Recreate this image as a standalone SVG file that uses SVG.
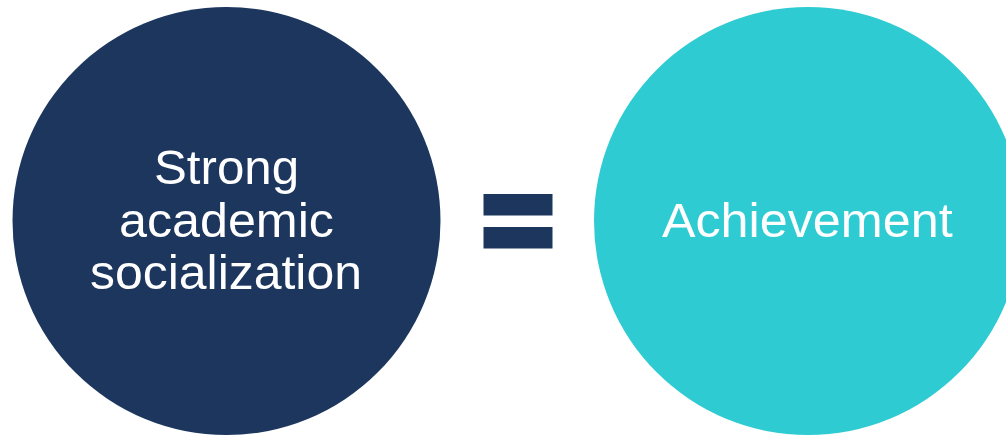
<svg xmlns="http://www.w3.org/2000/svg" width="1006" height="435" viewBox="0 0 1006 435">
<style>
.lbl{font-family:"Liberation Sans",Arial,sans-serif;font-size:48px;fill:#ffffff;text-anchor:middle}
.bar{fill:#1c365e}
</style>
<rect width="1006" height="435" fill="#ffffff"/>
<g id="node-strong">
<circle cx="226.5" cy="221" r="214" fill="#1c365e"/>
<text class="lbl" x="226.5" y="184" textLength="145" lengthAdjust="spacingAndGlyphs">Strong</text>
<text class="lbl" x="226.5" y="237" textLength="215" lengthAdjust="spacingAndGlyphs">academic</text>
<text class="lbl" x="226" y="289" textLength="272" lengthAdjust="spacingAndGlyphs">socialization</text>
</g>
<g id="node-equals">
<rect class="bar" x="483.5" y="194" width="69" height="21.5"/>
<rect class="bar" x="483.5" y="227" width="69" height="21.5"/>
</g>
<g id="node-achievement">
<circle cx="808" cy="221" r="214" fill="#2ecbd2"/>
<text class="lbl" x="807.3" y="237" textLength="290.7" lengthAdjust="spacingAndGlyphs">Achievement</text>
</g>
<g id="connectors"/>
</svg>
